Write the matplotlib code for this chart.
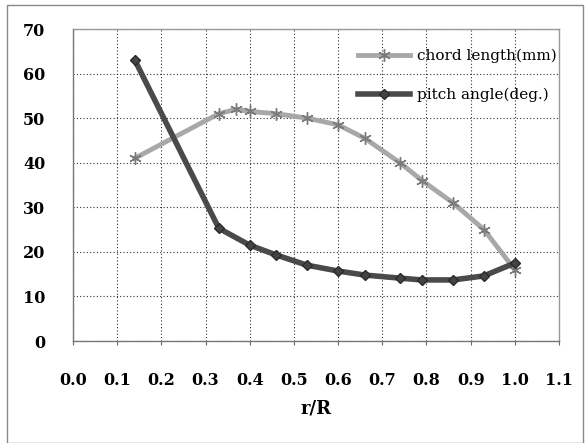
import matplotlib
matplotlib.use('Agg')
import matplotlib.pyplot as plt
from matplotlib.patches import Rectangle

# ── 数据──
r_chord = [0.14, 0.33, 0.37, 0.40, 0.46, 0.53, 0.60, 0.66, 0.74, 0.79, 0.86, 0.93, 1.00]
chord_mm = [41.0, 51.0, 52.0, 51.5, 51.0, 50.0, 48.5, 45.5, 40.0, 36.0, 31.0, 25.0, 16.0]

r_pitch = [0.14, 0.33, 0.40, 0.46, 0.53, 0.60, 0.66, 0.74, 0.79, 0.86, 0.93, 1.00]
pitch_deg = [63.0, 25.3, 21.5, 19.3, 17.0, 15.7, 14.8, 14.1, 13.7, 13.7, 14.6, 17.5]

x_ticks = [0.0, 0.1, 0.2, 0.3, 0.4, 0.5, 0.6, 0.7, 0.8, 0.9, 1.0, 1.1]
y_ticks = [0, 10, 20, 30, 40, 50, 60, 70]

plt.rcParams['font.family'] = ['DejaVu Serif']

fig = plt.figure(figsize=(5.86, 4.43), dpi=100)
ax = fig.add_axes([73 / 586, 1 - 341 / 443, (559 - 73) / 586, (341 - 29) / 443])

# 外框
fig.patches.append(Rectangle((7 / 586, 0.0), (583 - 7) / 586, 1 - 5 / 443,
                             transform=fig.transFigure, fill=False,
                             edgecolor='#888888', linewidth=1.0))

ax.plot(r_chord, chord_mm, color='#a8a8a8', linewidth=3.5, marker=(6, 2, 0),
        markersize=9, markeredgewidth=1.0, markeredgecolor='#7a7a7a',
        label='chord length(mm)')
ax.plot(r_pitch, pitch_deg, color='#4a4a4a', linewidth=4, marker='D',
        markersize=5, markeredgecolor='#2a2a2a', markerfacecolor='#444444',
        label='pitch angle(deg.)')

ax.set_xlim(0, 1.1)
ax.set_ylim(0, 70)
ax.set_xticks(x_ticks)
ax.set_yticks(y_ticks)
ax.set_xticklabels([f'{v:.1f}' for v in x_ticks], fontsize=11.5, fontweight='bold')
ax.set_yticklabels([str(v) for v in y_ticks], fontsize=11.5, fontweight='bold')
ax.tick_params(axis='x', length=3, pad=19, color='#666666')
ax.tick_params(axis='y', length=0, pad=20)
ax.set_xlabel('r/R', fontsize=13, fontweight='bold', labelpad=8)

ax.grid(True, color='#333333', linestyle=(0, (1, 2)), linewidth=0.8)
for s in ax.spines.values():
    s.set_color('#999999')
    s.set_linewidth(1.0)
ax.spines['left'].set_color('#777777')
ax.spines['bottom'].set_color('#777777')

leg = ax.legend(loc='upper right', bbox_to_anchor=(0.996, 0.936), frameon=False,
                fontsize=11, handlelength=3.4, handletextpad=0.5,
                labelspacing=1.6, borderaxespad=0.0, borderpad=0.0)

fig.savefig('out.png', dpi=100)
